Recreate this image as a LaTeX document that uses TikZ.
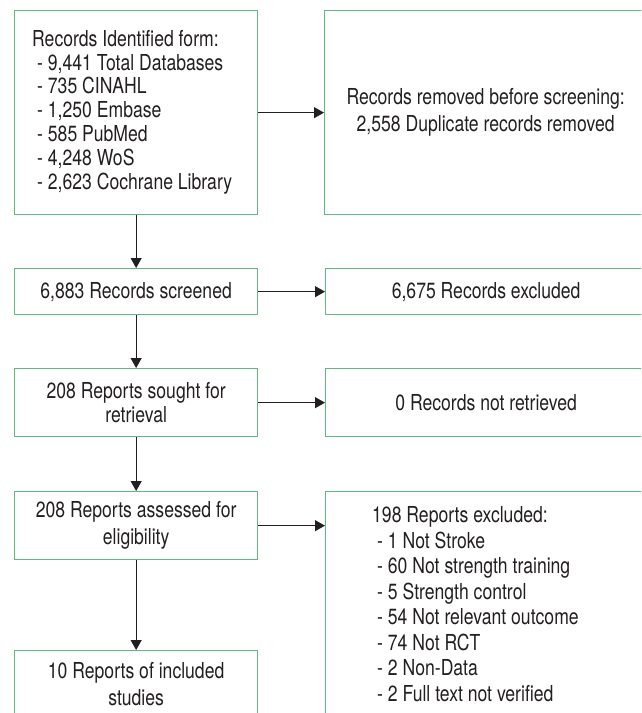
\documentclass[tikz,border=0pt]{standalone}
\usepackage{fontspec}
\setmainfont{TeX Gyre Heros}[FakeStretch=0.80]
\usetikzlibrary{arrows.meta}
\definecolor{boxgreen}{RGB}{96,186,128}
\definecolor{ink}{RGB}{35,31,32}
\begin{document}
\begin{tikzpicture}[x=1pt,y=1pt,
  box/.style={draw=boxgreen, line width=1.3pt, anchor=north west, inner sep=0pt, text=ink, align=center},
  lefttext/.style={inner sep=0pt, text=ink, align=left},
  conn/.style={draw=ink, line width=1pt, -{Triangle[length=10pt,width=11pt]}}]
\clip (0,0) rectangle (641,-713);
\fill[white] (0,0) rectangle (641,-713);
% left column
\node[box, minimum width=243, minimum height=204] (A) at (14,-10) {};
\node[lefttext, anchor=west, font=\fontsize{22}{23.8}\selectfont] (At) at (32,-112)
  {Records Identified form:\\
   \hspace*{5pt}- 9,441 Total Databases\\
   \hspace*{5pt}- 735 CINAHL\\
   \hspace*{5pt}- 1,250 Embase\\
   \hspace*{5pt}- 585 PubMed\\
   \hspace*{5pt}- 4,248 WoS\\
   \hspace*{5pt}- 2,623 Cochrane Library};
\node[box, minimum width=243, minimum height=46, font=\fontsize{22}{24}\selectfont] (C) at (14,-268)
  {6,883 Records screened};
\node[box, minimum width=243, minimum height=68, font=\fontsize{22}{24}\selectfont] (D) at (14,-368)
  {208 Reports sought for\\retrieval};
\node[box, minimum width=243, minimum height=68, font=\fontsize{22}{27}\selectfont] (E) at (14,-491)
  {208 Reports assessed for\\eligibility};
\node[box, minimum width=243, minimum height=67, font=\fontsize{22}{27}\selectfont] (F) at (14,-650)
  {10 Reports of included\\studies};
% right column
\node[box, minimum width=322, minimum height=204, font=\fontsize{22}{27}\selectfont] (B) at (324,-10)
  {Records removed before screening:\\2,558 Duplicate records removed};
\node[box, minimum width=321, minimum height=46, font=\fontsize{22}{24}\selectfont] (Cp) at (325,-268)
  {6,675 Records excluded};
\node[box, minimum width=321, minimum height=68, font=\fontsize{22}{24}\selectfont] (Dp) at (325,-368)
  {0 Records not retrieved};
\node[box, minimum width=321, minimum height=240] (Ep) at (325,-491) {};
\node[lefttext, anchor=north west, font=\fontsize{22}{25.5}\selectfont] (Et) at (372,-506.5)
  {198 Reports excluded:\\
   \hspace*{5pt}- 1 Not Stroke\\
   \hspace*{5pt}- 60 Not strength training\\
   \hspace*{5pt}- 5 Strength control\\
   \hspace*{5pt}- 54 Not relevant outcome\\
   \hspace*{5pt}- 74 Not RCT\\
   \hspace*{5pt}- 2 Non-Data\\
   \hspace*{5pt}- 2 Full text not verified};
% connectors
\draw[conn] (A.south) -- (C.north);
\draw[conn] (C.south) -- (D.north);
\draw[conn] (D.south) -- (E.north);
\draw[conn] (E.south) -- (F.north);
\draw[conn] (A.east) -- (B.west);
\draw[conn] (C.east) -- (Cp.west);
\draw[conn] (D.east) -- (Dp.west);
\draw[conn] (E.east) -- (E.east -| Ep.west);
\end{tikzpicture}
\end{document}
